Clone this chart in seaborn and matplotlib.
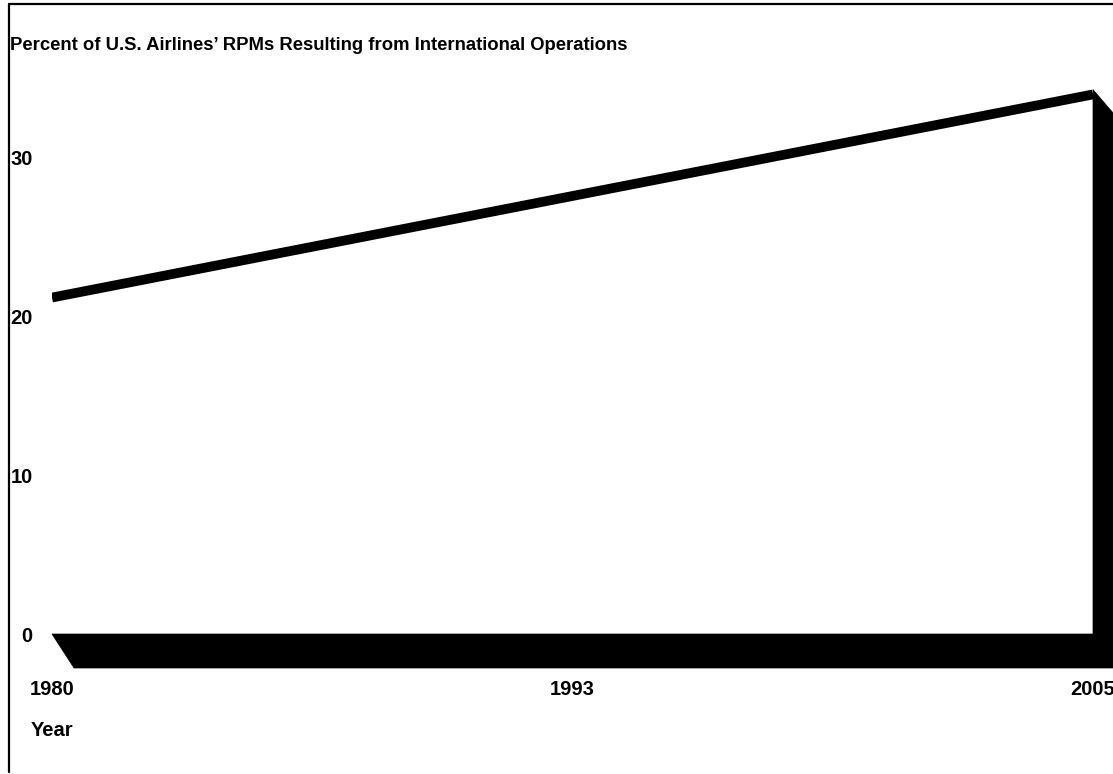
import numpy as np
import pandas as pd
import matplotlib
matplotlib.use("Agg")
import matplotlib.pyplot as plt
from matplotlib.patches import Polygon
from matplotlib.lines import Line2D
import seaborn as sns

# Share of U.S. airline revenue passenger miles flown on international routes
years = ["1980", "1993", "2005"]
pct_international = [21.2, 27.6, 34.0]
y_ticks = [0, 10, 20, 30]

title = "Percent of U.S. Airlines\u2019 RPMs Resulting from International Operations"
x_title = "Year"

sns.set_style("white")
plt.rcParams["font.family"] = ["Liberation Sans", "DejaVu Sans"]
plt.rcParams["font.weight"] = "bold"
plt.rcParams["text.color"] = "black"
plt.rcParams["xtick.color"] = "black"
plt.rcParams["ytick.color"] = "black"
plt.rcParams["axes.labelcolor"] = "black"

W, H, DPI = 1113, 774, 100
fig = plt.figure(figsize=(W / DPI, H / DPI), dpi=DPI)
fig.patch.set_facecolor("white")

# plot area in pixel terms: x from 52 to 1093, zero line at 634
y_max = 36
px_per_unit = 15.87
left_px, right_px, zero_px = 52, 1093, 634
top_px = zero_px - y_max * px_per_unit
ax = fig.add_axes([left_px / W, (H - zero_px) / H,
                   (right_px - left_px) / W, (zero_px - top_px) / H])

df = pd.DataFrame({"Year": years, "Percent": pct_international})
sns.lineplot(data=df, x="Year", y="Percent", ax=ax, color="black",
             linewidth=7, solid_capstyle="butt", zorder=5)

ax.set_xlim(0, len(years) - 1)
ax.set_ylim(0, y_max)

# extruded depth of the area: floor and right-hand side faces in one shape
depth_dx = 22 / ((right_px - left_px) / (len(years) - 1))
depth_dy = 34 / px_per_unit
pos = np.arange(len(years))
x0, x1 = pos[0], pos[-1]
v_end = pct_international[-1]

shadow = Polygon([(x0, 0), (x1, 0), (x1, v_end + 0.3),
                  (x1 + depth_dx, v_end + 0.3 - depth_dy * 0.75),
                  (x1 + depth_dx, -depth_dy), (x0 + depth_dx, -depth_dy)],
                 closed=True, facecolor="black", edgecolor="black", lw=0.5,
                 clip_on=False, zorder=3)
ax.add_patch(shadow)

for s in ax.spines.values():
    s.set_visible(False)
ax.grid(False)

ax.set_yticks(y_ticks)
ax.set_yticklabels([str(t) for t in y_ticks])
ax.set_xticks(pos)
ax.set_xticklabels(years)
ax.tick_params(axis="y", length=0, pad=14, labelsize=14.5, labelcolor="black")
ax.tick_params(axis="x", length=0, pad=33, labelsize=14.5, labelcolor="black")
for lab in ax.get_xticklabels() + ax.get_yticklabels():
    lab.set_fontweight("bold")
ax.set_xlabel("")
ax.set_ylabel("")

fig.text(10 / W, 1 - 46 / H, title, ha="left", va="center",
         fontsize=13.3, fontweight="bold", color="black")
fig.text(31 / W, 1 - 730 / H, x_title, ha="left", va="center",
         fontsize=14.5, fontweight="bold", color="black")

# frame around the figure (left and top edges visible)
fig.add_artist(Line2D([8.5 / W, 8.5 / W], [1 - 4 / H, 1 - 772 / H],
                      transform=fig.transFigure, color="black", lw=1.6))
fig.add_artist(Line2D([8.5 / W, 1.0], [1 - 4 / H, 1 - 4 / H],
                      transform=fig.transFigure, color="black", lw=1.6))

fig.savefig("out.png", dpi=DPI, facecolor="white")
